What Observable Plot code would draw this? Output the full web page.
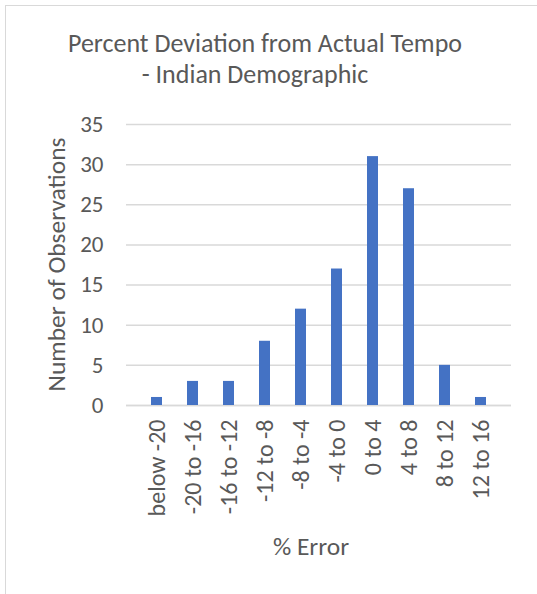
<!DOCTYPE html>
<html>
<head>
<meta charset="utf-8">
<script src="https://cdn.jsdelivr.net/npm/d3@7"></script>
<script src="https://cdn.jsdelivr.net/npm/@observablehq/plot@0.6"></script>
<style>
  html, body { margin: 0; padding: 0; background: #fff; }
  body { width: 537px; height: 594px; position: relative; overflow: hidden;
         font-family: Calibri, Carlito, Lato, sans-serif; color: #595959; }
  #frame { position: absolute; left: 5px; top: 5px; width: 600px; height: 700px;
           border-left: 1.5px solid #d9d9d9; border-top: 1.5px solid #d9d9d9; }
  #title { position: absolute; left: 0; width: 530px; top: 28px; text-align: center;
           font-size: 26px; line-height: 31px; color: #595959; }
  #title span { display: block; }
  #chart { position: absolute; left: 0; top: 95px; }
</style>
</head>
<body>
<div id="frame"></div>
<div id="title"><span>Percent Deviation from Actual Tempo</span><span style="margin-right:20px">- Indian Demographic</span></div>
<div id="chart"></div>
<script>
// Error bins (percent deviation from actual tempo) and observation counts
const bins = ["below -20", "-20 to -16", "-16 to -12", "-12 to -8", "-8 to -4",
              "-4 to 0", "0 to 4", "4 to 8", "8 to 12", "12 to 16"];
const counts = [1, 3, 3, 8, 12, 17, 31, 27, 5, 1];
const yTicks = [0, 5, 10, 15, 20, 25, 30, 35];

const data = bins.map((b, i) => ({bin: b, count: counts[i]}));

const W = 537, H = 499;
const mL = 126, mR = 26, mT = 29, mB = 189;
const font = "Calibri, Carlito, Lato, sans-serif";

const plot = Plot.plot({
  width: W,
  height: H,
  marginLeft: mL,
  marginRight: mR,
  marginTop: mT,
  marginBottom: mB,
  style: {fontFamily: font, fontSize: "23px", color: "#595959", background: "transparent"},
  x: {domain: bins, padding: 0.69, label: null},
  y: {domain: [0, 35], label: null},
  marks: [
    Plot.gridY(yTicks, {stroke: "#d9d9d9", strokeOpacity: 1, strokeWidth: 1.5}),
    Plot.ruleY([0], {stroke: "#d9d9d9", strokeWidth: 1.5}),
    Plot.barY(data, {x: "bin", y: "count", fill: "#4472C4"}),
    Plot.axisY(yTicks, {tickSize: 0, tickPadding: 23, label: null, fontSize: 23}),
    Plot.axisX({tickSize: 0, tickPadding: 14, tickRotate: -90, label: null, fontSize: 24})
  ]
});

document.getElementById("chart").appendChild(plot);

// Axis titles
const svg = d3.select(plot);
const y0 = plot.scale("y").apply(0), y35 = plot.scale("y").apply(35);
svg.append("text")
  .attr("transform", `translate(65,${(y0 + y35) / 2}) rotate(-90)`)
  .attr("text-anchor", "middle")
  .attr("fill", "#595959")
  .style("font-size", "25.5px")
  .text("Number of Observations");
svg.append("text")
  .attr("x", 311)
  .attr("y", 555 - 95)
  .attr("text-anchor", "middle")
  .attr("fill", "#595959")
  .style("font-size", "25.5px")
  .text("% Error");
</script>
</body>
</html>
